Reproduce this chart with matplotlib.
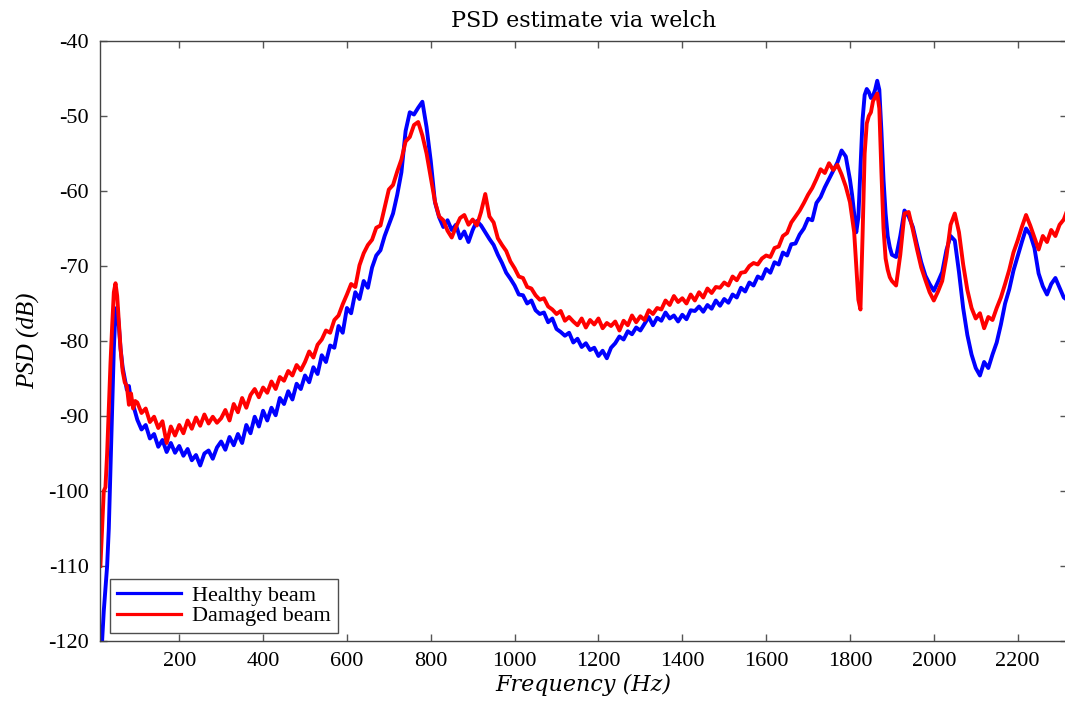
import numpy as np
import matplotlib
matplotlib.use("Agg")
import matplotlib.pyplot as plt

# ---------------- data ----------------
freq_low = [12, 16, 20, 24, 28, 32, 36, 40, 44, 48, 52, 56, 60, 65, 70, 75, 80, 85, 90, 95]
healthy_low = [-126, -120, -116, -113, -110, -105, -97, -89, -81, -76, -75.5, -78, -81, -83.5,
               -85, -86.5, -86, -88, -88.5, -89.5]
damaged_low = [-110, -105, -100, -99.5, -95, -89, -83, -78, -73.5, -72.3, -74, -77.5, -81, -84,
               -85.5, -86, -88.5, -87, -89, -88]

# 100 .. 1790 Hz, 10 Hz step
freq_mid = np.arange(100, 1800, 10)
healthy_mid = [
    -90.5, -91.8, -91.2, -93.0, -92.4, -94.1, -93.2, -94.8, -93.6, -94.9,
    -94.0, -95.3, -94.4, -95.9, -95.2, -96.6, -95.0, -94.6, -95.7, -94.2,
    -93.4, -94.5, -92.8, -93.9, -92.4, -93.6, -91.2, -92.3, -90.1, -91.4,
    -89.3, -90.6, -88.9, -89.9, -87.6, -88.4, -86.7, -87.8, -85.7, -86.4,
    -84.6, -85.5, -83.5, -84.4, -81.9, -82.8, -80.6, -80.9, -78.0, -78.9,
    -75.6, -76.3, -73.5, -74.4, -72.0, -72.9, -70.2, -68.6, -67.9, -66.0,
    -64.5, -63.0, -60.5, -57.5, -52.0, -49.5, -49.8, -48.9, -48.1, -51.5,
    -56.0, -61.5, -63.5, -64.8, -63.9, -65.2, -64.5, -66.3, -65.4, -66.8,
    -65.2, -64.0, -64.6, -65.5, -66.4, -67.2, -68.5, -69.6, -70.9, -71.7,
    -72.6, -73.8, -73.9, -75.0, -74.6, -75.9, -76.4, -76.2, -77.5, -77.0,
    -78.4, -78.8, -79.3, -78.9, -80.2, -79.7, -80.8, -80.3, -81.2, -80.9,
    -82.0, -81.3, -82.3, -80.9, -80.3, -79.4, -79.8, -78.7, -79.1, -78.2,
    -78.6, -77.7, -76.8, -77.9, -76.9, -77.3, -76.2, -77.0, -76.6, -77.4,
    -76.5, -77.1, -75.9, -76.0, -75.4, -76.1, -75.2, -75.7, -74.6, -75.3,
    -74.4, -74.9, -73.8, -74.2, -72.9, -73.4, -72.2, -72.6, -71.4, -71.7,
    -70.4, -70.9, -69.5, -69.8, -68.2, -68.6, -67.1, -67.0, -65.8, -65.0,
    -63.7, -63.9, -61.6, -60.8, -59.5, -58.4, -57.3, -56.2, -54.6, -55.4,
]
damaged_mid = [
    -88.2, -89.6, -89.0, -90.8, -90.1, -91.6, -90.7, -93.6, -91.4, -92.6,
    -91.2, -92.3, -90.6, -91.7, -90.2, -91.3, -89.8, -91.0, -90.1, -90.9,
    -90.3, -89.2, -90.6, -88.4, -89.5, -87.6, -88.9, -87.2, -86.4, -87.5,
    -86.2, -86.9, -85.4, -86.4, -84.8, -85.3, -84.0, -84.6, -83.2, -83.9,
    -82.8, -81.4, -82.2, -80.5, -79.8, -78.6, -78.9, -77.2, -76.6, -75.1,
    -73.8, -72.4, -72.8, -69.9, -68.3, -67.2, -66.5, -64.9, -64.6, -62.2,
    -59.8, -59.2, -57.4, -55.8, -53.4, -52.8, -51.2, -50.8, -52.6, -55.0,
    -58.2, -61.4, -63.4, -63.9, -65.3, -66.2, -64.8, -63.6, -63.2, -64.5,
    -63.8, -64.6, -62.8, -60.4, -63.4, -64.2, -66.3, -67.2, -68.0, -69.4,
    -70.3, -71.4, -71.6, -72.8, -73.0, -73.9, -74.5, -74.3, -75.4, -75.8,
    -76.4, -76.0, -77.3, -76.8, -77.4, -77.9, -77.0, -78.2, -77.2, -77.8,
    -77.0, -78.3, -77.6, -78.0, -77.4, -78.6, -77.3, -77.9, -76.6, -77.5,
    -76.7, -77.2, -75.9, -76.4, -75.6, -75.8, -74.6, -75.2, -74.0, -74.8,
    -74.3, -75.0, -73.8, -74.6, -73.5, -74.2, -73.0, -73.6, -72.8, -72.9,
    -72.2, -72.6, -71.4, -71.9, -70.9, -70.8, -70.0, -69.6, -69.8, -69.0,
    -68.6, -68.8, -67.6, -67.4, -66.0, -65.6, -64.2, -63.4, -62.6, -61.6,
    -60.5, -59.6, -58.4, -57.1, -57.6, -56.3, -57.2, -56.5, -57.8, -59.4,
]

# 1800 .. 1895 Hz, 5 Hz step (sharp resonances)
freq_peak = np.arange(1800, 1900, 5)
healthy_peak = [-58.5, -60.5, -63.0, -65.5, -63.5, -57.0, -50.5, -47.2, -46.4, -46.8,
                -47.6, -47.3, -46.5, -45.3, -46.5, -52.0, -58.5, -63.0, -66.0, -67.5]
damaged_peak = [-61.5, -63.5, -65.5, -70.0, -74.5, -75.8, -66.0, -55.0, -51.0, -50.0,
                -49.5, -48.0, -47.5, -47.0, -49.0, -57.5, -65.0, -69.0, -70.5, -71.5]

# 1900 .. 2320 Hz, 10 Hz step
freq_high = np.arange(1900, 2330, 10)
healthy_high = [-68.5, -68.8, -66.0, -62.6, -63.4, -64.8, -67.2, -69.5, -71.3, -72.4,
                -73.3, -72.1, -70.8, -67.9, -66.0, -66.6, -70.8, -75.6, -79.2, -81.8,
                -83.6, -84.6, -82.8, -83.6, -81.8, -80.2, -77.8, -75.0, -73.1, -70.6,
                -68.7, -66.8, -65.0, -65.8, -67.6, -71.0, -72.7, -73.8, -72.4, -71.6,
                -72.9, -74.2, -74.6]
damaged_high = [-72.0, -72.6, -68.5, -63.0, -62.8, -65.2, -67.8, -70.2, -71.9, -73.5,
                -74.6, -73.4, -72.0, -68.8, -64.5, -63.0, -65.5, -69.8, -73.2, -75.6,
                -77.0, -76.3, -78.3, -76.8, -77.2, -75.6, -74.2, -72.4, -70.5, -68.2,
                -66.6, -64.8, -63.2, -64.6, -66.2, -67.8, -66.0, -66.8, -65.2, -66.0,
                -64.5, -63.8, -62.3]

xticks = [200, 400, 600, 800, 1000, 1200, 1400, 1600, 1800, 2000, 2200]
yticks = [-120, -110, -100, -90, -80, -70, -60, -50, -40]
labels = ["Healthy beam", "Damaged beam"]

freq = np.concatenate([freq_low, freq_mid, freq_peak, freq_high])
healthy = np.concatenate([healthy_low, healthy_mid, healthy_peak, healthy_high])
damaged = np.concatenate([damaged_low, damaged_mid, damaged_peak, damaged_high])

# ---------------- plot ----------------
plt.rcParams['font.family'] = ['Liberation Serif', 'DejaVu Serif']
plt.rcParams['axes.unicode_minus'] = False

fig = plt.figure(figsize=(10.65, 7.01), dpi=100)
ax = fig.add_axes([100 / 1065, 1 - 641 / 701, 1 - 100 / 1065 + 0.002, 600 / 701])

ax.plot(freq, healthy, color='#0000ff', lw=2.8, label=labels[0])
ax.plot(freq, damaged, color='#ff0000', lw=2.8, label=labels[1])

ax.set_xlim(11, 2318)
ax.set_ylim(-120, -40)
ax.set_xticks(xticks)
ax.set_yticks(yticks)
ax.tick_params(direction='in', length=5, width=1, color='#555555', labelsize=16,
               top=True, right=True, pad=8)
for s in ax.spines.values():
    s.set_color('#444444')
    s.set_linewidth(1.0)

ax.set_title('PSD estimate via welch', fontsize=16, pad=10,
             family=['DejaVu Serif'])
ax.set_xlabel('Frequency (Hz)', fontsize=16, style='italic', labelpad=2,
              family=['DejaVu Serif'])
ax.set_ylabel('PSD (dB)', fontsize=18, style='italic', labelpad=6)

leg = ax.legend(loc='lower left', bbox_to_anchor=(0.0104, 0.0133), borderaxespad=0,
                prop={'family': 'Liberation Serif', 'size': 16}, frameon=True,
                fancybox=False, handlelength=2.9, borderpad=0.3, labelspacing=0.0,
                handletextpad=0.5)
leg.get_frame().set_edgecolor('#222222')
leg.get_frame().set_linewidth(1.0)
for ln in leg.get_lines():
    ln.set_linewidth(2.3)

fig.savefig('out.png', dpi=100)
